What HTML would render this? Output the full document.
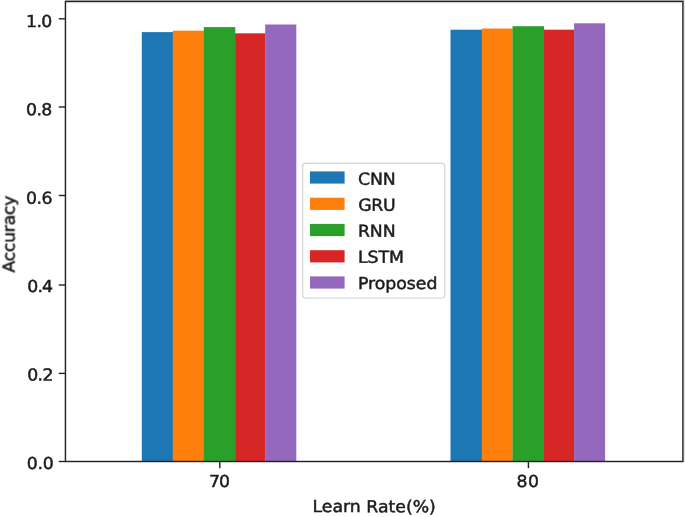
<!DOCTYPE html>
<html><head><meta charset="utf-8"><title>Accuracy vs Learn Rate</title>
<style>
html,body{margin:0;padding:0;background:#fff;}
body{width:685px;height:517px;overflow:hidden;}
svg{display:block;}
text{text-rendering:geometricPrecision;font-family:"DejaVu Sans","Liberation Sans",sans-serif;font-size:17.3px;fill:#1c1c1c;stroke:#1c1c1c;stroke-width:0.5px;}
</style></head><body>
<svg width="685" height="517" viewBox="0 0 685 517">
<defs><filter id="soft" x="-2%" y="-2%" width="104%" height="104%"><feGaussianBlur stdDeviation="0.45"/></filter></defs>
<rect x="0" y="0" width="685" height="517" fill="#ffffff"/>
<g filter="url(#soft)">
<rect x="65" y="-1" width="621" height="1.9" fill="#bcbcbc"/>
<rect x="684" y="0" width="2" height="462" fill="#e2e2e2"/>
<rect x="141.8" y="32.1" width="31.2" height="429.4" fill="#1f77b4"/>
<rect x="172.8" y="30.7" width="31.2" height="430.8" fill="#ff7f0e"/>
<rect x="203.8" y="27.1" width="31.5" height="434.4" fill="#2ca02c"/>
<rect x="235.1" y="33.3" width="30.3" height="428.2" fill="#d62728"/>
<rect x="265.2" y="24.5" width="31.1" height="437.0" fill="#9467bd"/>
<rect x="450.5" y="29.7" width="31.5" height="431.8" fill="#1f77b4"/>
<rect x="481.8" y="28.5" width="30.9" height="433.0" fill="#ff7f0e"/>
<rect x="512.5" y="26.2" width="31.6" height="435.3" fill="#2ca02c"/>
<rect x="543.9" y="29.7" width="30.4" height="431.8" fill="#d62728"/>
<rect x="574.1" y="23.3" width="31.0" height="438.2" fill="#9467bd"/>
<rect x="65.45" y="1.5" width="617.45" height="460.0" fill="none" stroke="#242424" stroke-width="1.45"/>
<line x1="58.8" y1="461.5" x2="65.45" y2="461.5" stroke="#242424" stroke-width="1.4"/>
<text transform="translate(26.81,468.90) rotate(0.03) scale(1,0.955)" letter-spacing="-0.230">0.0</text>
<line x1="58.8" y1="373.4" x2="65.45" y2="373.4" stroke="#242424" stroke-width="1.4"/>
<text transform="translate(27.21,380.50) rotate(0.03) scale(1,0.955)" letter-spacing="-0.610">0.2</text>
<line x1="58.8" y1="285.0" x2="65.45" y2="285.0" stroke="#242424" stroke-width="1.4"/>
<text transform="translate(27.21,292.00) rotate(0.03) scale(1,0.955)" letter-spacing="-0.820">0.4</text>
<line x1="58.8" y1="195.5" x2="65.45" y2="195.5" stroke="#242424" stroke-width="1.4"/>
<text transform="translate(26.10,203.80) rotate(0.03) scale(1,0.955)" letter-spacing="-0.570">0.6</text>
<line x1="58.8" y1="107.0" x2="65.45" y2="107.0" stroke="#242424" stroke-width="1.4"/>
<text transform="translate(26.10,115.20) rotate(0.03) scale(1,0.955)" letter-spacing="-0.620">0.8</text>
<line x1="58.8" y1="18.8" x2="65.45" y2="18.8" stroke="#242424" stroke-width="1.4"/>
<text transform="translate(26.12,27.00) rotate(0.03) scale(1,0.955)" letter-spacing="-0.650">1.0</text>
<line x1="219.8" y1="461.5" x2="219.8" y2="468.2" stroke="#242424" stroke-width="1.4"/>
<text transform="translate(208.90,487.00) rotate(0.03) scale(1,0.955)" letter-spacing="-1.000">70</text>
<line x1="528.4" y1="461.5" x2="528.4" y2="468.2" stroke="#242424" stroke-width="1.4"/>
<text transform="translate(516.58,487.00) rotate(0.03) scale(1,0.955)" letter-spacing="0.400">80</text>
<text transform="translate(312.40,512.10) rotate(0.03) scale(1,0.955)" letter-spacing="0.010">Learn Rate(%)</text>
<text transform="translate(14.85,272.59) rotate(-90.03) scale(1,0.955)" letter-spacing="-0.280">Accuracy</text>
<rect x="302.6" y="163.2" width="142.2" height="134.9" rx="3" ry="3" fill="#ffffff" fill-opacity="0.8" stroke="#d2d2d2" stroke-opacity="0.85" stroke-width="1.4"/>
<rect x="310" y="171.4" width="34.6" height="12.2" fill="#1f77b4"/>
<text transform="translate(358.06,184.70) rotate(0.03) scale(1,0.955)" letter-spacing="-0.210">CNN</text>
<rect x="310" y="197.7" width="34.6" height="12.2" fill="#ff7f0e"/>
<text transform="translate(358.16,210.75) rotate(0.03) scale(1,0.955)" letter-spacing="-0.330">GRU</text>
<rect x="310" y="223.9" width="34.6" height="12.2" fill="#2ca02c"/>
<text transform="translate(357.91,236.80) rotate(0.03) scale(1,0.955)" letter-spacing="-0.080">RNN</text>
<rect x="310" y="250.2" width="34.6" height="12.2" fill="#d62728"/>
<text transform="translate(357.91,262.85) rotate(0.03) scale(1,0.955)" letter-spacing="-0.060">LSTM</text>
<rect x="310" y="276.4" width="34.6" height="12.2" fill="#9467bd"/>
<text transform="translate(357.91,289.00) rotate(0.03) scale(1,0.955)" letter-spacing="-0.010">Proposed</text>
</g></svg></body></html>
